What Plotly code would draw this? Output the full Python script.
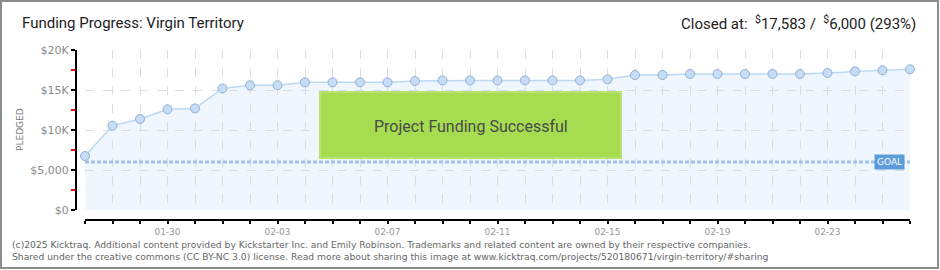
import plotly.graph_objects as go

W, H = 940, 270

dates = [
    "2025-01-27", "2025-01-28", "2025-01-29", "2025-01-30", "2025-01-31",
    "2025-02-01", "2025-02-02", "2025-02-03", "2025-02-04", "2025-02-05",
    "2025-02-06", "2025-02-07", "2025-02-08", "2025-02-09", "2025-02-10",
    "2025-02-11", "2025-02-12", "2025-02-13", "2025-02-14", "2025-02-15",
    "2025-02-16", "2025-02-17", "2025-02-18", "2025-02-19", "2025-02-20",
    "2025-02-21", "2025-02-22", "2025-02-23", "2025-02-24", "2025-02-25",
    "2025-02-26",
]
pledged = [
    6750, 10540, 11375, 12580, 12700, 15200, 15600, 15600, 15960, 15960,
    15960, 15960, 16125, 16200, 16200, 16200, 16200, 16200, 16200, 16330,
    16875, 16875, 17000, 17000, 17000, 17000, 17000, 17125, 17330, 17460,
    17583,
]
goal = 6000
x_tick_dates = ["2025-01-30", "2025-02-03", "2025-02-07", "2025-02-11",
                "2025-02-15", "2025-02-19", "2025-02-23"]
x_tick_labels = ["01-30", "02-03", "02-07", "02-11", "02-15", "02-19", "02-23"]
y_tick_vals = [0, 5000, 10000, 15000, 20000]
y_tick_labels = ["$0", "$5,000", "$10K", "$15K", "$20K"]

title_text = "Funding Progress: Virgin Territory"
closed_text = "Closed at:  <sup>$</sup>17,583 /  <sup>$</sup>6,000 (293%)"
success_text = "Project Funding Successful"
footer1 = ("(c)2025 Kicktraq. Additional content provided by Kickstarter Inc. and Emily Robinson. "
           "Trademarks and related content are owned by their respective companies.")
footer2 = ("Shared under the creative commons (CC BY-NC 3.0) license. Read more about sharing this image "
           "at www.kicktraq.com/projects/520180671/virgin-territory/#sharing")

DAY_MS = 86400000


def px(x):
    return x / W


def py(y):
    return 1 - y / H


fig = go.Figure()
fig.add_trace(go.Scatter(
    x=dates, y=pledged, mode="lines+markers", fill="tozeroy",
    fillcolor="rgba(190,218,248,0.25)",
    line=dict(color="#bcd9f4", width=1.5),
    marker=dict(size=9, color="#c6ddf7", line=dict(color="#93afd2", width=1)),
    cliponaxis=False, hoverinfo="skip",
))
fig.add_trace(go.Scatter(
    x=[dates[0], dates[-1]], y=[goal, goal], mode="lines",
    line=dict(color="#a2c2e8", width=3, dash="4px,2px"),
    cliponaxis=False, hoverinfo="skip",
))

fig.update_layout(
    template="none",
    width=W, height=H, autosize=False,
    margin=dict(l=0, r=0, t=0, b=0, pad=0, autoexpand=False),
    paper_bgcolor="white", plot_bgcolor="white",
    showlegend=False,
    xaxis=dict(
        type="date", automargin=False,
        domain=[px(85), px(910)],
        range=[dates[0], dates[-1]],
        anchor="free", position=py(220),
        tickvals=x_tick_dates, ticktext=x_tick_labels,
        ticks="outside", ticklen=3, tickwidth=1.5, tickcolor="black",
        minor=dict(tick0=dates[0], dtick=DAY_MS, ticks="outside", ticklen=3,
                   tickwidth=1.5, tickcolor="black", showgrid=True,
                   gridcolor="#dedede", griddash="dash", gridwidth=1),
        showline=True, linecolor="black", linewidth=2,
        showgrid=True, gridcolor="#dedede", griddash="dash", gridwidth=1,
        tickfont=dict(family="DejaVu Sans", size=9, color="#999999"),
        zeroline=False,
    ),
    yaxis=dict(
        automargin=False,
        domain=[py(210), py(50)],
        range=[0, 20000],
        anchor="free", position=px(76),
        tickvals=y_tick_vals, ticktext=y_tick_labels,
        ticks="outside", ticklen=4, tickwidth=2, tickcolor="black",
        minor=dict(dtick=2500, ticks="outside", ticklen=4, tickwidth=2,
                   tickcolor="red", showgrid=False),
        showline=True, linecolor="black", linewidth=2,
        showgrid=True, gridcolor="#dedede", griddash="dash", gridwidth=1,
        tickfont=dict(family="DejaVu Sans", size=11, color="#8a8a8a"),
        zeroline=False,
    ),
)

shapes = [
    dict(type="rect", xref="paper", yref="paper",
         x0=px(320), x1=px(621), y0=py(158), y1=py(92),
         fillcolor="#a6dc50", line=dict(color="#b8e374", width=2), layer="above"),
    dict(type="rect", xref="paper", yref="paper",
         x0=px(1), x1=px(938), y0=py(268), y1=py(1),
         fillcolor="rgba(0,0,0,0)", line=dict(color="#8c8c8c", width=2)),
]
fig.update_layout(shapes=shapes)

annotations = [
    dict(text=title_text, xref="paper", yref="paper", x=px(20), y=py(23),
         xanchor="left", yanchor="middle", showarrow=False,
         font=dict(family="Roboto", size=15, color="#222222")),
    dict(text=closed_text, xref="paper", yref="paper", x=px(918), y=py(23),
         xanchor="right", yanchor="middle", showarrow=False,
         font=dict(family="Roboto", size=15, color="#222222")),
    dict(text=success_text, xref="paper", yref="paper", x=px(470.5), y=py(126),
         xanchor="center", yanchor="middle", showarrow=False,
         font=dict(family="Roboto", size=16, color="#4a4a4a")),
    dict(text="PLEDGED", xref="paper", yref="paper", x=px(20), y=py(130),
         xanchor="center", yanchor="middle", showarrow=False, textangle=-90,
         font=dict(family="DejaVu Sans", size=9, color="#7a7a7a")),
    dict(text="GOAL", xref="x domain", yref="y", x=1, y=goal, xshift=-5,
         xanchor="right", yanchor="middle", showarrow=False,
         bgcolor="#5b9bd8", borderpad=2,
         font=dict(family="DejaVu Sans", size=9, color="white")),
    dict(text=footer1, xref="paper", yref="paper", x=px(10), y=py(244),
         xanchor="left", yanchor="middle", showarrow=False,
         font=dict(family="DejaVu Sans", size=9.2, color="#666666")),
    dict(text=footer2, xref="paper", yref="paper", x=px(10), y=py(256),
         xanchor="left", yanchor="middle", showarrow=False,
         font=dict(family="DejaVu Sans", size=9.2, color="#666666")),
]
fig.update_layout(annotations=annotations)

fig.write_html("out.html")
